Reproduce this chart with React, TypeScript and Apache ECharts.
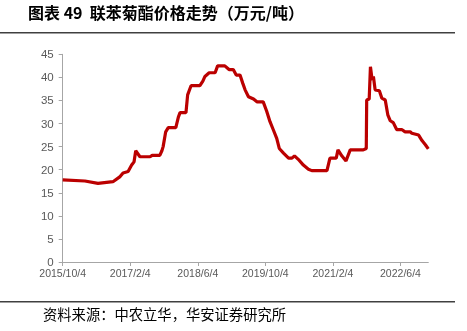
import React, { useEffect, useRef } from "react";
import * as echarts from "echarts";

const title = "图表 49  联苯菊酯价格走势（万元/吨）";
const source = "资料来源：中农立华，华安证券研究所";

const dates = [
  "2015-10-04", "2016-03-12", "2016-06-15", "2016-10-01", "2016-11-22", "2016-12-13",
  "2017-01-19", "2017-02-14", "2017-03-01", "2017-03-13", "2017-04-13", "2017-06-25",
  "2017-07-10", "2017-09-04", "2017-09-19", "2017-09-28", "2017-10-16", "2017-11-04",
  "2017-12-28", "2018-01-16", "2018-01-28", "2018-03-10", "2018-03-22", "2018-04-16",
  "2018-06-19", "2018-07-10", "2018-07-25", "2018-08-25", "2018-10-07", "2018-10-25",
  "2018-12-16", "2019-01-16", "2019-02-16", "2019-03-07", "2019-04-04", "2019-04-24",
  "2019-05-10", "2019-06-04", "2019-07-10", "2019-08-04", "2019-09-19", "2019-10-13",
  "2019-11-07", "2019-12-01", "2019-12-25", "2020-01-13", "2020-02-13", "2020-03-19",
  "2020-04-13", "2020-05-01", "2020-05-28", "2020-07-04", "2020-08-10", "2020-09-04",
  "2020-12-22", "2021-01-13", "2021-02-28", "2021-03-10", "2021-04-07", "2021-05-07",
  "2021-06-07", "2021-09-10", "2021-10-01", "2021-10-04", "2021-10-22", "2021-10-31",
  "2021-11-13", "2021-11-22", "2021-12-04", "2022-01-04", "2022-01-22", "2022-02-16",
  "2022-03-04", "2022-03-22", "2022-04-13", "2022-05-07", "2022-06-13", "2022-07-07",
  "2022-08-13", "2022-08-25", "2022-10-13", "2022-11-07", "2022-12-01", "2022-12-22",
];

const prices = [
  17.8, 17.55, 17.05, 17.4, 18.5, 19.3,
  19.6, 21.0, 21.7, 24.1, 22.8, 22.8,
  23.1, 23.1, 24.1, 25.0, 28.2, 29.1,
  29.1, 31.4, 32.35, 32.35, 36.2, 38.2,
  38.2, 39.2, 40.2, 41.0, 41.0, 42.5,
  42.5, 41.7, 41.7, 40.5, 40.5, 38.7,
  37.3, 35.8, 35.3, 34.7, 34.7, 32.7,
  30.4, 28.6, 26.8, 24.6, 23.6, 22.5,
  22.5, 23.0, 22.25, 21.0, 20.1, 19.8,
  19.8, 22.5, 22.5, 24.3, 23.0, 21.9,
  24.3, 24.3, 24.6, 35.1, 35.3, 42.3,
  39.4, 40.2, 37.3, 37.1, 35.5, 35.1,
  31.9, 30.6, 30.2, 28.7, 28.7, 28.2,
  28.2, 27.9, 27.5, 26.3, 25.4, 24.5,
];

const xTickMonths = [0, 16, 32, 48, 64, 80];
const axisEndDate = "2022-12-22";

function monthIndex(s: string): number {
  const [y, m, d] = s.split("-").map(Number);
  return (y - 2015) * 12 + (m - 10) + (d - 4) / 30.4;
}

function monthLabel(v: number): string {
  const total = 9 + Math.round(v);
  const year = 2015 + Math.floor(total / 12);
  const month = (total % 12) + 1;
  return `${year}/${month}/4`;
}

export default function App() {
  const ref = useRef<HTMLDivElement>(null);
  useEffect(() => {
    if (!ref.current) return;
    const chart = echarts.init(ref.current, null, { renderer: "svg" });
    const data = dates.map((d, i) => [monthIndex(d), prices[i]]);
    chart.setOption({
      animation: false,
      grid: { left: 62.7, right: 38.7, top: 54.3, bottom: 69, containLabel: false },
      xAxis: {
        type: "value",
        min: 0,
        max: monthIndex(axisEndDate),
        interval: 16,
        splitLine: { show: false },
        axisLine: { show: true, lineStyle: { color: "#a6a6a6", width: 1 } },
        axisTick: { show: true, length: 4, customValues: xTickMonths, lineStyle: { color: "#a6a6a6" } },
        axisLabel: {
          customValues: xTickMonths,
          formatter: (v: number) => monthLabel(v),
          color: "#595959",
          fontSize: 10.5,
          fontFamily: "Liberation Sans, Arial, sans-serif",
          margin: 5,
        },
      },
      yAxis: {
        type: "value",
        min: 0,
        max: 45,
        interval: 5,
        splitLine: { show: false },
        axisLine: { show: true, lineStyle: { color: "#a6a6a6", width: 1 } },
        axisTick: { show: true, length: 4, inside: false, lineStyle: { color: "#a6a6a6" } },
        axisLabel: {
          color: "#595959",
          fontSize: 11.5,
          fontFamily: "Liberation Sans, Arial, sans-serif",
          margin: 9,
        },
      },
      series: [
        {
          type: "line",
          data,
          showSymbol: false,
          symbol: "none",
          lineStyle: { color: "#bb0000", width: 3.2 },
        },
      ],
      graphic: [
        {
          type: "text",
          left: 28,
          top: 4,
          style: {
            text: title,
            fontSize: 16,
            fontWeight: "bold",
            fill: "#000",
            fontFamily: "Noto Sans CJK SC, sans-serif",
          },
        },
        {
          type: "line",
          shape: { x1: 0, y1: 32.7, x2: 455, y2: 32.7 },
          style: { stroke: "#404040", lineWidth: 1.5 },
        },
        {
          type: "line",
          shape: { x1: 0, y1: 301.7, x2: 455, y2: 301.7 },
          style: { stroke: "#404040", lineWidth: 1.5 },
        },
        {
          type: "text",
          left: 43,
          top: 306,
          style: {
            text: source,
            fontSize: 14.3,
            fill: "#000",
            fontFamily: "Noto Sans CJK SC, sans-serif",
          },
        },
      ],
    });
    return () => chart.dispose();
  }, []);
  return (
    <div
      ref={ref}
      style={{ position: "fixed", left: 0, top: 0, width: 467, height: 331 }}
    />
  );
}
